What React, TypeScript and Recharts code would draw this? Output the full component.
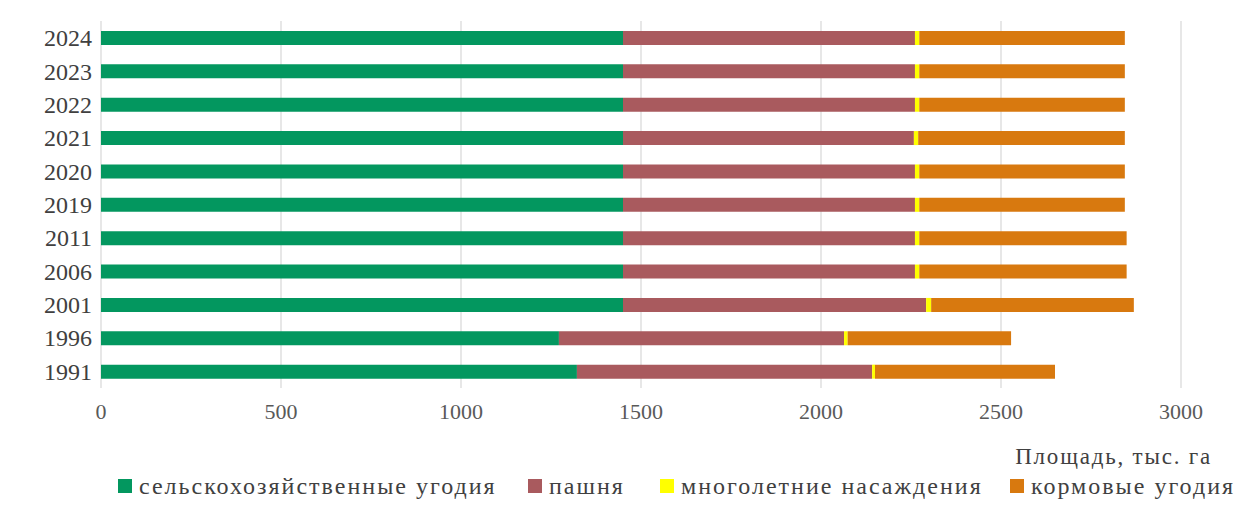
import { BarChart, Bar, XAxis, YAxis, CartesianGrid, Legend } from 'recharts';

const years = ['2024', '2023', '2022', '2021', '2020', '2019', '2011', '2006', '2001', '1996', '1991'];
const agriLand = [1450, 1450, 1450, 1450, 1450, 1450, 1450, 1450, 1450, 1272, 1322];
const arable = [811, 811, 811, 808, 811, 811, 811, 811, 842, 792, 820];
const perennial = [12, 12, 12, 12, 12, 12, 12, 12, 14, 10, 8];
const fodder = [571, 571, 571, 574, 571, 571, 576, 576, 563, 454, 500];
const xTicks = [0, 500, 1000, 1500, 2000, 2500, 3000];

const seriesNames = {
  agri: 'сельскохозяйственные угодия',
  arable: 'пашня',
  perennial: 'многолетние насаждения',
  fodder: 'кормовые угодия',
};

const colors = {
  agri: '#03975F',
  arable: '#A95A5E',
  perennial: '#FFFF00',
  fodder: '#D8790F',
};

const data = years.map((year, i) => ({
  year,
  agri: agriLand[i],
  arable: arable[i],
  perennial: perennial[i],
  fodder: fodder[i],
}));

const FONT = '"Liberation Serif", "Times New Roman", serif';
const legendKeys = ['agri', 'arable', 'perennial', 'fodder'] as const;
// left edge of each legend swatch, as in the source picture
const legendLeft = { agri: 118, arable: 528, perennial: 660, fodder: 1010 };

function LegendContent() {
  return (
    <div style={{ position: 'relative', height: 30, fontFamily: FONT, fontSize: 24, letterSpacing: 2, color: '#404040' }}>
      {legendKeys.map((k) => (
        <div
          key={k}
          style={{ position: 'absolute', left: legendLeft[k], top: 0, height: 30, display: 'flex', alignItems: 'center', whiteSpace: 'nowrap' }}
        >
          <span style={{ width: 14, height: 14, background: colors[k], display: 'inline-block', marginRight: 7 }} />
          <span>{seriesNames[k]}</span>
        </div>
      ))}
    </div>
  );
}

function AxisTitle(props: any) {
  const { viewBox } = props;
  return (
    <text
      x={viewBox.x + viewBox.width + 31}
      y={viewBox.y + 76}
      textAnchor="end"
      fontFamily={FONT}
      fontSize={23}
      letterSpacing={1.8}
      fill="#404040"
    >
      Площадь, тыс. га
    </text>
  );
}

export default function App() {
  return (
    <div style={{ position: 'absolute', left: 0, top: 0, background: '#fff' }}>
      <BarChart
        width={1244}
        height={509}
        data={data}
        layout="vertical"
        margin={{ top: 21, right: 63, bottom: 8, left: 0 }}
        barCategoryGap={0}
      >
        <CartesianGrid horizontal={false} stroke="#cfcfcf" />
        <XAxis
          type="number"
          domain={[0, 3000]}
          ticks={xTicks}
          axisLine={false}
          tickLine={false}
          tickSize={0}
          tickMargin={15}
          height={83}
          tick={{ fontFamily: FONT, fontSize: 22, fill: '#595959' }}
          label={<AxisTitle />}
        />
        <YAxis
          type="category"
          dataKey="year"
          width={101}
          axisLine={false}
          tickLine={false}
          tickSize={0}
          tickMargin={9}
          tick={{ fontFamily: FONT, fontSize: 24, fill: '#404040' }}
        />
        <Legend verticalAlign="bottom" height={30} content={<LegendContent />} />
        <Bar dataKey="agri" stackId="a" fill={colors.agri} barSize={14} isAnimationActive={false} />
        <Bar dataKey="arable" stackId="a" fill={colors.arable} barSize={14} isAnimationActive={false} />
        <Bar dataKey="perennial" stackId="a" fill={colors.perennial} barSize={14} isAnimationActive={false} />
        <Bar dataKey="fodder" stackId="a" fill={colors.fodder} barSize={14} isAnimationActive={false} />
      </BarChart>
    </div>
  );
}
